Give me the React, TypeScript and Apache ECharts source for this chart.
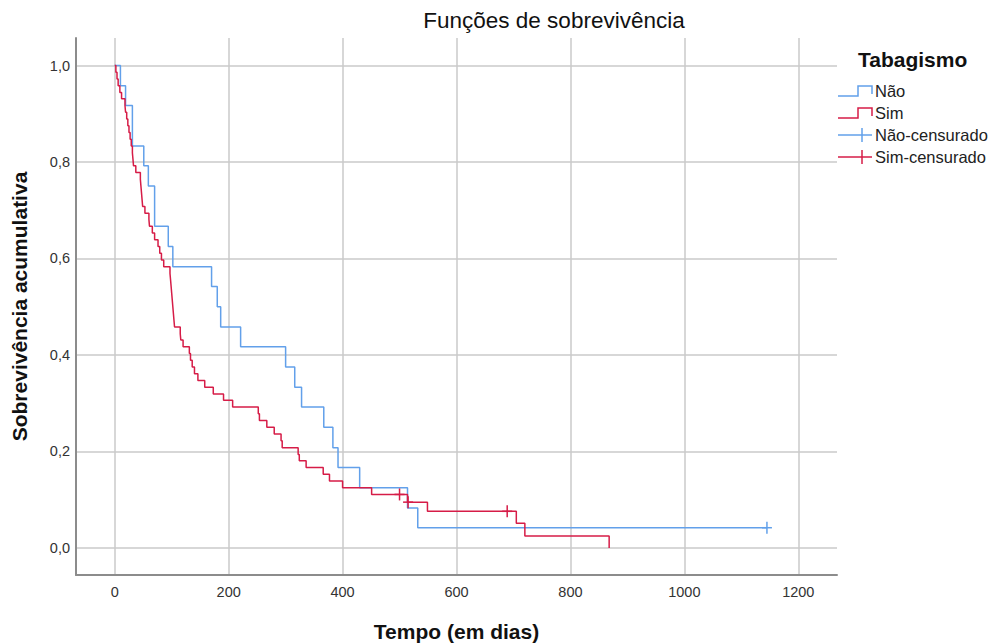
import React, { useEffect, useRef } from "react";
import * as echarts from "echarts";

const xTicks = [0, 200, 400, 600, 800, 1000, 1200];
const yTicks = [0, 0.2, 0.4, 0.6, 0.8, 1.0];

// Não (Tabagismo = Não)
const naoDays = [0, 10, 19, 31, 51, 59, 70, 94, 102, 170, 180, 186, 221, 300, 316, 328, 367, 383, 392, 430, 514, 532, 1145];
const naoSurv = [1, 0.958, 0.917, 0.833, 0.792, 0.75, 0.667, 0.625, 0.583, 0.542, 0.5, 0.458, 0.417, 0.375, 0.333, 0.292, 0.25, 0.208, 0.167, 0.125, 0.083, 0.042, 0.042];
const naoCensDays = [1145];
const naoCensSurv = [0.042];

// Sim (Tabagismo = Sim)
const simDays = [0, 2, 4, 6, 9, 12, 18, 19, 21, 23, 25, 27, 29, 31, 32, 33, 37, 45, 46, 47, 48, 49, 53, 60, 61, 66, 70, 76, 79, 82, 86, 97, 98, 99, 100, 101, 102, 103, 104, 105, 115, 116, 120, 131, 133, 136, 140, 146, 158, 173, 191, 207, 252, 254, 267, 280, 292, 294, 322, 324, 336, 366, 377, 400, 451, 514, 549, 705, 720, 868];
const simSurv = [1, 0.986, 0.972, 0.958, 0.944, 0.931, 0.917, 0.903, 0.889, 0.875, 0.861, 0.847, 0.833, 0.819, 0.806, 0.792, 0.778, 0.764, 0.75, 0.736, 0.722, 0.708, 0.694, 0.681, 0.667, 0.653, 0.639, 0.625, 0.611, 0.597, 0.583, 0.569, 0.556, 0.542, 0.528, 0.514, 0.5, 0.486, 0.472, 0.458, 0.444, 0.431, 0.417, 0.403, 0.389, 0.375, 0.361, 0.347, 0.333, 0.319, 0.306, 0.292, 0.278, 0.264, 0.25, 0.236, 0.222, 0.208, 0.194, 0.181, 0.167, 0.153, 0.139, 0.125, 0.111, 0.095, 0.076, 0.051, 0.025, 0];
const simCensDays = [500, 515, 689];
const simCensSurv = [0.111, 0.095, 0.076];

const legendLabels = ["Não", "Sim", "Não-censurado", "Sim-censurado"];

const BLUE = "#62a0ea";
const RED = "#d61c47";
const FONT = "'Liberation Sans', Arial, sans-serif";

function crossSeries(name: string, days: number[], surv: number[], color: string) {
  return {
    type: "custom",
    name,
    coordinateSystem: "cartesian2d",
    data: days.map((d, i) => [d, surv[i]]),
    z: 5,
    renderItem: (_p: any, api: any) => {
      const p = api.coord([api.value(0), api.value(1)]);
      return {
        type: "group",
        children: [
          { type: "line", shape: { x1: p[0] - 5, y1: p[1], x2: p[0] + 5, y2: p[1] }, style: { stroke: color, lineWidth: 1.5 } },
          { type: "line", shape: { x1: p[0], y1: p[1] - 6, x2: p[0], y2: p[1] + 6 }, style: { stroke: color, lineWidth: 1.5 } },
        ],
      };
    },
  };
}

function legendGraphics() {
  const x0 = 838, x1 = 872, tx = 875;
  const ys = [91, 113, 135, 157];
  const colors = [BLUE, RED, BLUE, RED];
  const els: any[] = [
    { type: "text", x: 858, y: 59, style: { text: "Tabagismo", font: `bold 21px ${FONT}`, fill: "#111", textVerticalAlign: "middle" } },
  ];
  legendLabels.forEach((lab, i) => {
    const y = ys[i];
    if (i < 2) {
      els.push({
        type: "polyline",
        shape: { points: [[x0, y + 5], [x0 + 20, y + 5], [x0 + 20, y - 5], [x1, y - 5], [x1, y + 3]] },
        style: { stroke: colors[i], lineWidth: 1.5, fill: "none" },
      });
    } else {
      els.push({ type: "line", shape: { x1: x0, y1: y, x2: x1, y2: y }, style: { stroke: colors[i], lineWidth: 1.5 } });
      els.push({ type: "line", shape: { x1: 862, y1: y - 7, x2: 862, y2: y + 7 }, style: { stroke: colors[i], lineWidth: 1.5 } });
    }
    els.push({ type: "text", x: tx, y, style: { text: lab, font: `16.5px ${FONT}`, fill: "#222", textVerticalAlign: "middle" } });
  });
  return els;
}

export default function App() {
  const ref = useRef<HTMLDivElement>(null);
  useEffect(() => {
    if (!ref.current) return;
    const chart = echarts.init(ref.current, null, { renderer: "svg" });
    const fmt = (v: number) => v.toFixed(1).replace(".", ",");
    chart.setOption({
      animation: false,
      backgroundColor: "#ffffff",
      textStyle: { fontFamily: FONT },
      grid: { left: 76, right: 155, top: 38, bottom: 68, containLabel: false, outerBoundsMode: "none" },
      xAxis: {
        type: "value",
        min: -68,
        max: 1268,
        name: "Tempo (em dias)",
        nameLocation: "middle",
        nameGap: 46,
        nameTextStyle: { fontFamily: FONT, fontSize: 21, fontWeight: "bold", color: "#111" },
        axisLine: { show: true, onZero: false, lineStyle: { color: "#8c8c8c", width: 2 } },
        axisTick: { show: false, customValues: xTicks },
        axisLabel: { customValues: xTicks, formatter: (v: number) => String(v), color: "#333", fontSize: 14.5, margin: 9, fontFamily: FONT },
        splitLine: { show: true, lineStyle: { color: "#cacaca", width: 1.5 } },
      },
      yAxis: {
        type: "value",
        min: -0.056,
        max: 1.057,
        name: "Sobrevivência acumulativa",
        nameLocation: "middle",
        nameGap: 46,
        nameTextStyle: { fontFamily: FONT, fontSize: 21, fontWeight: "bold", color: "#111" },
        axisLine: { show: true, onZero: false, lineStyle: { color: "#8c8c8c", width: 2 } },
        axisTick: { show: false, customValues: yTicks },
        axisLabel: { customValues: yTicks, formatter: fmt, color: "#333", fontSize: 14.5, margin: 6, fontFamily: FONT },
        splitLine: { show: true, lineStyle: { color: "#cacaca", width: 1.5 } },
      },
      graphic: [
        { type: "text", x: 554, y: 20, style: { text: "Funções de sobrevivência", font: `22.5px ${FONT}`, fill: "#111", textAlign: "center", textVerticalAlign: "middle" } },
        ...legendGraphics(),
      ],
      series: [
        {
          type: "line",
          name: "Não",
          step: "end",
          showSymbol: false,
          symbol: "none",
          data: naoDays.map((d, i) => [d, naoSurv[i]]),
          lineStyle: { color: BLUE, width: 1.5 },
          itemStyle: { color: BLUE },
          z: 3,
        },
        {
          type: "line",
          name: "Sim",
          step: "end",
          showSymbol: false,
          symbol: "none",
          data: simDays.map((d, i) => [d, simSurv[i]]),
          lineStyle: { color: RED, width: 1.5 },
          itemStyle: { color: RED },
          z: 4,
        },
        crossSeries("Não-censurado", naoCensDays, naoCensSurv, BLUE),
        crossSeries("Sim-censurado", simCensDays, simCensSurv, RED),
      ],
    });
    return () => chart.dispose();
  }, []);
  return <div ref={ref} style={{ position: "fixed", left: 0, top: 0, width: 992, height: 643 }} />;
}
